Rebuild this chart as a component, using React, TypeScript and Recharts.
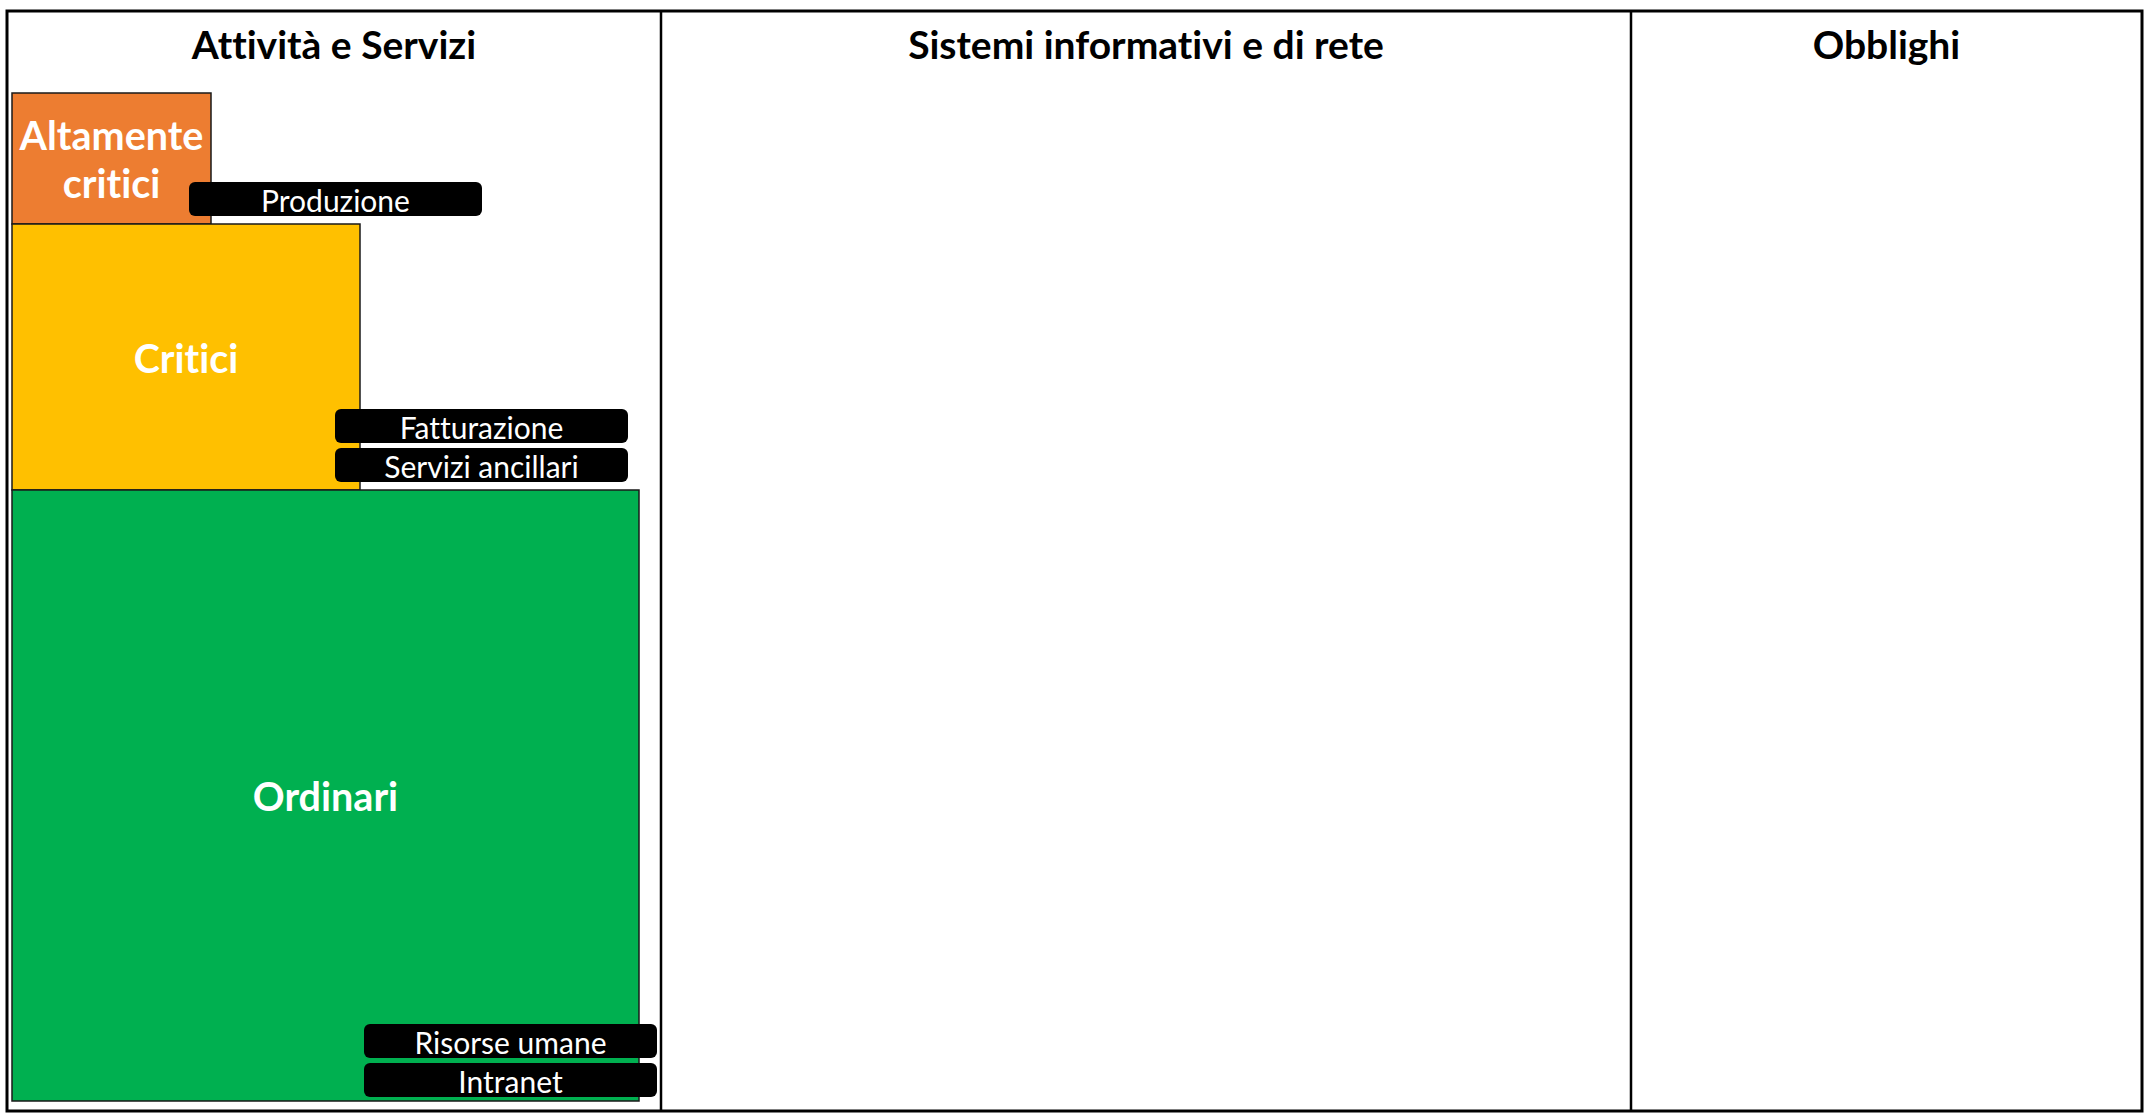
import React from 'react';
import { ComposedChart, XAxis, YAxis, ReferenceArea, ReferenceLine } from 'recharts';

// drawing units: one unit = one pixel of the table, origin at its top-left corner
const columns = ['Attività e Servizi', 'Sistemi informativi e di rete', 'Obblighi'];
const columnWidths = [654, 970, 511];
const tableHeight = 1100;

const tierNames = [['Altamente', 'critici'], ['Critici'], ['Ordinari']];
const tierWidths = [199, 348, 627];
const tierHeights = [131, 266, 611];

const assets = ['Produzione', 'Fatturazione', 'Servizi ancillari', 'Risorse umane', 'Intranet'];
const assetStarts = [182, 328, 328, 357, 357];
const assetTops = [171, 398, 437, 1013, 1052];

const TIER_COLORS = ['#ED7D31', '#FFC000', '#00B050'];
const FONT = 'Lato, Carlito, Calibri, "Open Sans", sans-serif';
const NO_LIGA = { fontVariantLigatures: 'none' as const };
const TIER_LEFT = 5;
const TIER_TOP = 82;
const ASSET_W = 293;
const ASSET_H = 34;
const HEADER_H = 66;

const W = 2145;
const H = 1113;

const tableWidth = columnWidths.reduce((a, b) => a + b, 0);
const columnStarts = columnWidths.map((_, i) => columnWidths.slice(0, i).reduce((a, b) => a + b, 0));
const tierStarts = tierHeights.map((_, i) => TIER_TOP + tierHeights.slice(0, i).reduce((a, b) => a + b, 0));

const App: React.FC = () => {
  const headerShape = (title: string) => (p: any) => (
    <text
      x={p.x + p.width / 2}
      y={p.y + p.height / 2}
      textAnchor="middle"
      dominantBaseline="central"
      fontFamily={FONT}
      fontWeight={700}
      fontSize={39}
      fill="#000"
      style={NO_LIGA}
    >
      {title}
    </text>
  );

  const tierShape = (lines: string[], color: string) => (p: any) => {
    const lh = 48;
    const cy = p.y + p.height / 2;
    return (
      <g>
        <rect x={p.x} y={p.y} width={p.width} height={p.height} fill={color} stroke="#1a1a1a" strokeWidth={1.5} />
        {lines.map((l, i) => (
          <text
            key={l}
            x={p.x + p.width / 2}
            y={cy + (i - (lines.length - 1) / 2) * lh}
            textAnchor="middle"
            dominantBaseline="central"
            fontFamily={FONT}
            fontWeight={700}
            fontSize={39.5}
            fill="#fff"
            style={NO_LIGA}
          >
            {l}
          </text>
        ))}
      </g>
    );
  };

  const assetShape = (name: string) => (p: any) => (
    <g>
      <rect x={p.x} y={p.y} width={p.width} height={p.height} rx={6} ry={6} fill="#000" />
      <text
        x={p.x + p.width / 2}
        y={p.y + p.height / 2 + 1}
        textAnchor="middle"
        dominantBaseline="central"
        fontFamily={FONT}
        fontSize={30}
        fill="#fff"
        style={NO_LIGA}
      >
        {name}
      </text>
    </g>
  );

  return (
    <div style={{ position: 'absolute', left: 0, top: 0, width: W, height: H, background: '#fff' }}>
      <ComposedChart
        width={W}
        height={H}
        data={[{ x: 0, y: 0 }]}
        margin={{ top: 11, right: W - 7 - tableWidth, bottom: H - 11 - tableHeight, left: 7 }}
      >
        <XAxis type="number" dataKey="x" domain={[0, tableWidth]} hide allowDataOverflow />
        <YAxis type="number" dataKey="y" domain={[0, tableHeight]} reversed hide allowDataOverflow />

        {/* column headers */}
        {columns.map((c, i) => (
          <ReferenceArea
            key={c}
            x1={columnStarts[i]}
            x2={columnStarts[i] + columnWidths[i]}
            y1={0}
            y2={HEADER_H}
            ifOverflow="visible"
            shape={headerShape(c)}
          />
        ))}

        {/* criticality tiers */}
        {tierNames.map((t, i) => (
          <ReferenceArea
            key={t.join(' ')}
            x1={TIER_LEFT}
            x2={TIER_LEFT + tierWidths[i]}
            y1={tierStarts[i]}
            y2={tierStarts[i] + tierHeights[i]}
            ifOverflow="visible"
            shape={tierShape(t, TIER_COLORS[i])}
          />
        ))}

        {/* asset tags */}
        {assets.map((a, i) => (
          <ReferenceArea
            key={a}
            x1={assetStarts[i]}
            x2={assetStarts[i] + ASSET_W}
            y1={assetTops[i]}
            y2={assetTops[i] + ASSET_H}
            ifOverflow="visible"
            shape={assetShape(a)}
          />
        ))}

        {/* table frame */}
        {columnStarts.slice(1).map((x) => (
          <ReferenceLine key={x} x={x} stroke="#000" strokeWidth={2.5} ifOverflow="visible" />
        ))}
        <ReferenceArea
          x1={0}
          x2={tableWidth}
          y1={0}
          y2={tableHeight}
          ifOverflow="visible"
          fill="none"
          fillOpacity={0}
          stroke="#000"
          strokeWidth={3}
        />
      </ComposedChart>
    </div>
  );
};

export default App;
